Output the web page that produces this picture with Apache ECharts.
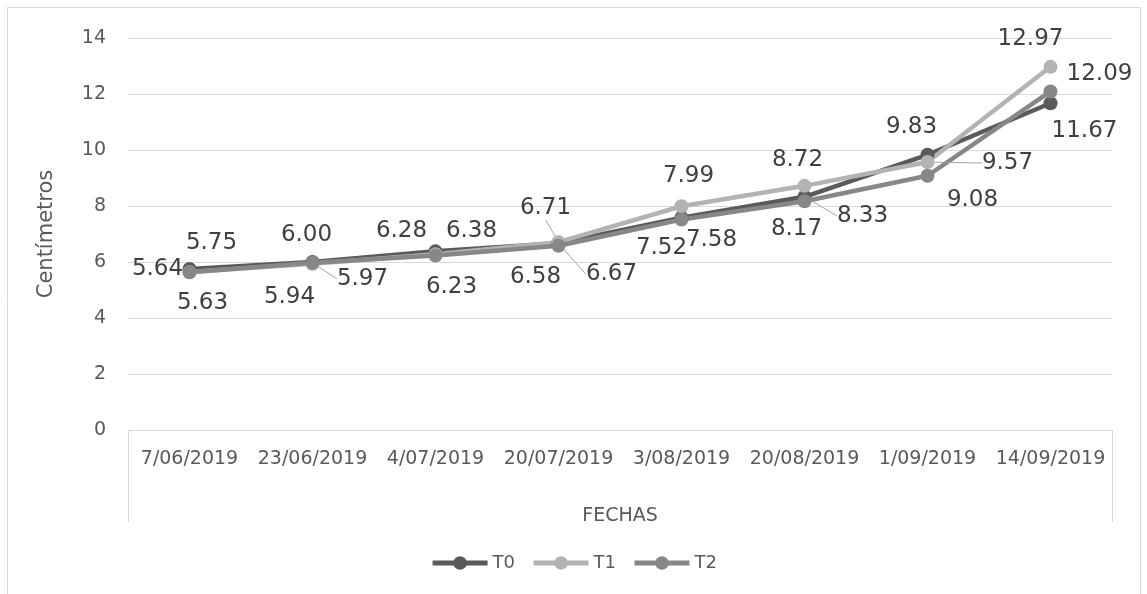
<!DOCTYPE html>
<html>
<head>
<meta charset="utf-8">
<script src="https://cdn.jsdelivr.net/npm/echarts@6/dist/echarts.min.js"></script>
<style>
  html, body { margin: 0; padding: 0; background: #ffffff; }
  #chart { width: 1147px; height: 594px; }
</style>
</head>
<body>
<div id="chart"></div>
<script>
// ---- data ----
var categories = ['7/06/2019', '23/06/2019', '4/07/2019', '20/07/2019', '3/08/2019', '20/08/2019', '1/09/2019', '14/09/2019'];
var seriesNames = ['T0', 'T1', 'T2'];
var T0 = [5.75, 6.00, 6.38, 6.67, 7.58, 8.33, 9.83, 11.67];
var T1 = [5.64, 5.94, 6.28, 6.71, 7.99, 8.72, 9.57, 12.97];
var T2 = [5.63, 5.97, 6.23, 6.58, 7.52, 8.17, 9.08, 12.09];
var yTicks = { min: 0, max: 14, interval: 2 };

// ---- label layout (offsets of each data label from its point) ----
var labelOffsets = [
  [[22, -26], [-6, -27], [36, -20], [53, 31], [30, 22], [58, 19], [-16, -28], [34, 28]],
  [[-32, -3], [-23, 33], [-34, -23], [-13, -34], [7, -30], [-7, -26], [80, 1], [-20, -28]],
  [[13, 31], [50, 16], [16, 31], [-23, 31], [-20, 29], [-8, 28], [45, 24], [49, -17]]
];
var leaderFlags = [
  [false, false, false, true, false, true, false, false],
  [false, false, false, true, false, false, true, false],
  [false, true, false, false, false, false, false, false]
];
var colors = ['#5a5a5a', '#b3b3b3', '#878787'];

var gridL = 128, gridR = 35, gridT = 38, gridB = 164;
var W = 1147, H = 594;
var FONT = 'DejaVu Sans';

var chart = echarts.init(document.getElementById('chart'), null, { renderer: 'canvas' });

function makeSeries(idx, values) {
  return {
    name: seriesNames[idx],
    type: 'line',
    data: values.map(function (v, i) {
      return { value: v, labelLine: { show: leaderFlags[idx][i] } };
    }),
    symbol: 'circle',
    symbolSize: 14,
    lineStyle: { width: 4.5, color: colors[idx] },
    itemStyle: { color: colors[idx] },
    label: {
      show: true,
      position: 'inside',
      formatter: function (p) { return p.value.toFixed(2); },
      color: '#404040',
      fontFamily: FONT,
      fontSize: 23
    },
    labelLine: {
      show: false,
      lineStyle: { color: '#a6a6a6', width: 1 },
      length2: 0,
      smooth: false
    },
    labelLayout: function (p) {
      var o = labelOffsets[idx][p.dataIndex];
      return { dx: o[0], dy: o[1] };
    },
    emphasis: { disabled: true },
    animation: false
  };
}

var option = {
  animation: false,
  color: colors,
  grid: { left: gridL, right: gridR, top: gridT, bottom: gridB, containLabel: false },
  legend: {
    data: seriesNames,
    left: 'center',
    top: 549,
    itemWidth: 55,
    itemHeight: 17,
    itemGap: 16,
    lineStyle: { width: 5 },
    textStyle: { color: '#595959', fontFamily: FONT, fontSize: 18 }
  },
  xAxis: {
    type: 'category',
    data: categories,
    boundaryGap: true,
    name: 'FECHAS',
    nameLocation: 'middle',
    nameGap: 77,
    nameTextStyle: { color: '#595959', fontFamily: FONT, fontSize: 19 },
    axisLine: { show: true, lineStyle: { color: '#d9d9d9', width: 1 } },
    axisTick: { show: false },
    axisLabel: { color: '#595959', fontFamily: FONT, fontSize: 19, margin: 20, interval: 0 }
  },
  yAxis: {
    type: 'value',
    min: yTicks.min,
    max: yTicks.max,
    interval: yTicks.interval,
    name: 'Centímetros',
    nameLocation: 'middle',
    nameGap: 71,
    nameRotate: 90,
    nameTextStyle: { color: '#595959', fontFamily: FONT, fontSize: 21 },
    axisLine: { show: false },
    axisTick: { show: false },
    axisLabel: { color: '#595959', fontFamily: FONT, fontSize: 19, margin: 22 },
    splitLine: { show: true, lineStyle: { color: '#d9d9d9', width: 1 } }
  },
  graphic: [
    {
      type: 'rect', silent: true, z: -1,
      shape: { x: 7.5, y: 7.5, width: 1133, height: 620 },
      style: { fill: 'none', stroke: '#d9d9d9', lineWidth: 1 }
    },
    {
      type: 'line', silent: true,
      shape: { x1: gridL + 0.5, y1: H - gridB, x2: gridL + 0.5, y2: 522 },
      style: { stroke: '#d9d9d9', lineWidth: 1 }
    },
    {
      type: 'line', silent: true,
      shape: { x1: W - gridR + 0.5, y1: H - gridB, x2: W - gridR + 0.5, y2: 522 },
      style: { stroke: '#d9d9d9', lineWidth: 1 }
    }
  ],
  series: [makeSeries(0, T0), makeSeries(1, T1), makeSeries(2, T2)]
};

chart.setOption(option);
</script>
</body>
</html>
